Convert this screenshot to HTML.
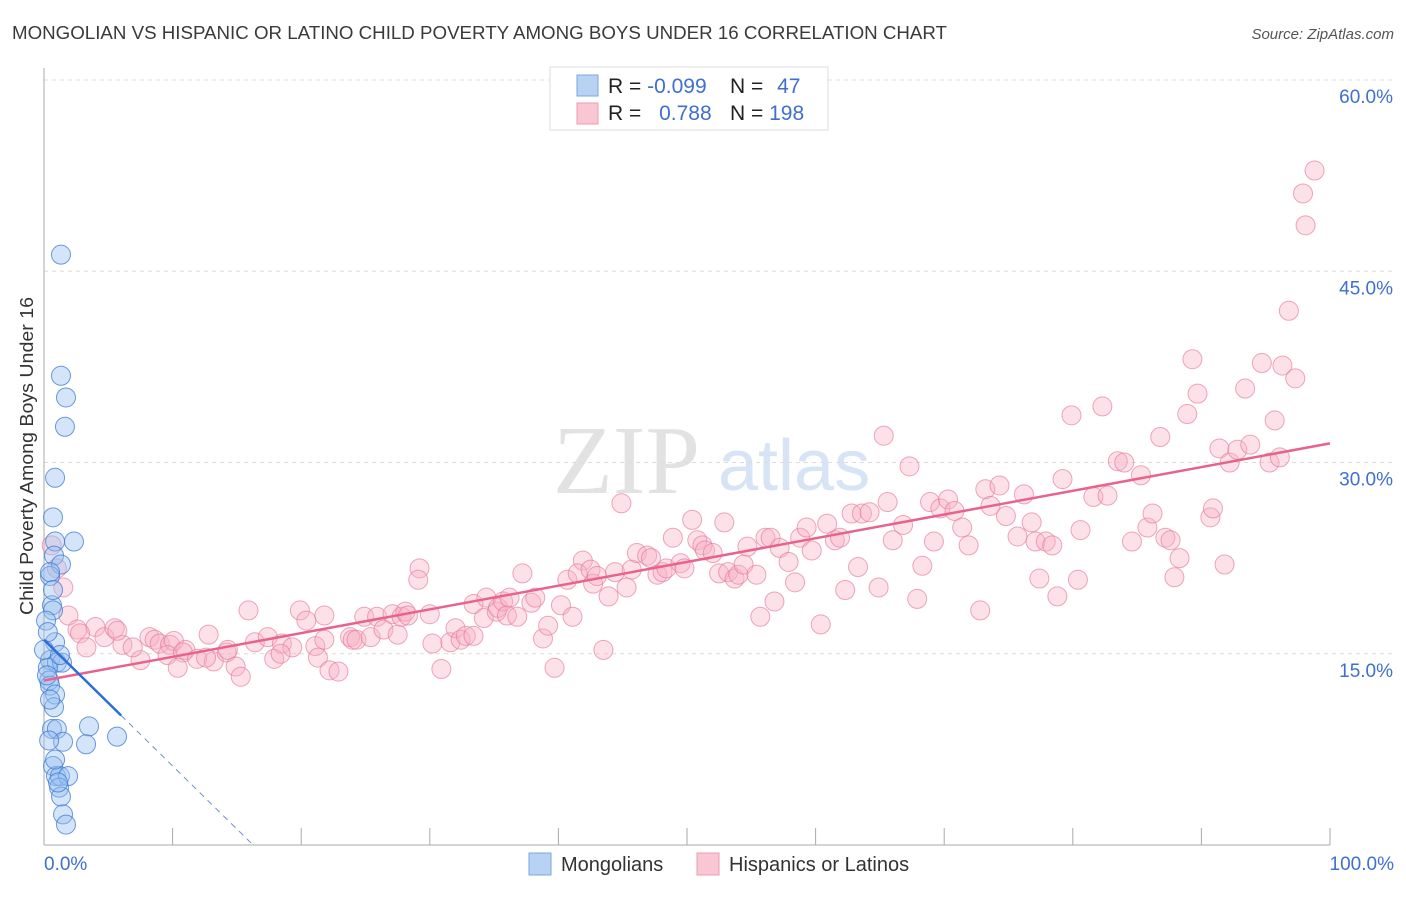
<!DOCTYPE html>
<html><head><meta charset="utf-8"><style>
body{margin:0;background:#fff;width:1406px;height:892px;overflow:hidden;font-family:"Liberation Sans",sans-serif}
</style></head><body>
<svg id="chart" width="1406" height="892" xmlns="http://www.w3.org/2000/svg" font-family="Liberation Sans, sans-serif">
<text x="12" y="39" font-size="18" fill="#3a3a3a" textLength="935" lengthAdjust="spacingAndGlyphs">MONGOLIAN VS HISPANIC OR LATINO CHILD POVERTY AMONG BOYS UNDER 16 CORRELATION CHART</text>
<text x="1394" y="39" font-size="15" fill="#555" text-anchor="end" font-style="italic">Source: ZipAtlas.com</text>
<g>
<text x="553" y="493" font-size="98" fill="#e2e2e2" font-family="Liberation Serif, serif">ZIP</text>
<text x="718" y="490" font-size="72" fill="#d6e4f6">atlas</text>
</g>
<g id="grid"></g>
<g id="axes"></g>
<g id="marks"></g>
<text transform="translate(33,456) rotate(-90)" font-size="18" fill="#333" text-anchor="middle" textLength="318" lengthAdjust="spacingAndGlyphs">Child Poverty Among Boys Under 16</text>
<text x="44" y="870" font-size="19" fill="#3f6fd0">0.0%</text>
<text x="1394" y="870" font-size="19" fill="#3f6fd0" text-anchor="end">100.0%</text>
<g>
<rect x="550" y="67" width="278" height="63" fill="#fff" stroke="#ddd"/>
<rect x="577" y="75" width="21" height="21" fill="#b8d2f4" stroke="#7aa6e0"/>
<rect x="577" y="103" width="21" height="21" fill="#f9c6d4" stroke="#ee9ab4"/>
<text x="608" y="93" font-size="21" fill="#222">R = <tspan fill="#3f6fd0">-0.099</tspan></text>
<text x="730" y="93" font-size="21" fill="#222">N = <tspan fill="#3f6fd0" dx="8">47</tspan></text>
<text x="608" y="120" font-size="21" fill="#222">R = <tspan fill="#3f6fd0" dx="12">0.788</tspan></text>
<text x="730" y="120" font-size="21" fill="#222">N = <tspan fill="#3f6fd0">198</tspan></text>
</g>
<g>
<rect x="529" y="853" width="22" height="22" fill="#b8d2f4" stroke="#7aa6e0"/>
<text x="561" y="871" font-size="20" fill="#333">Mongolians</text>
<rect x="697" y="853" width="22" height="22" fill="#f9c6d4" stroke="#ee9ab4"/>
<text x="729" y="871" font-size="20" fill="#333">Hispanics or Latinos</text>
</g>
</svg>
<script>
const yTicks=[15,30,45,60];
const yTickLabels=["15.0%","30.0%","45.0%","60.0%"];
const xTicks=[10,20,30,40,50,60,70,80,90,100];
const blueX=[1.32,1.32,1.71,1.63,0.86,0.7,2.33,0.86,0.78,1.32,0.47,0.62,0.7,0.86,0.47,1.0,1.4,0.3,0.4,0.47,0.86,0.78,0.62,1.0,3.5,5.68,1.48,3.27,0.7,0.93,1.24,1.87,1.17,1.32,1.09,1.48,1.71,0.47,0.16,0.3,0,0.23,0.7,1.24,0.4,0.86,0.47];
const blueY=[46.3,36.8,35.1,32.8,28.8,25.7,23.8,23.8,22.7,22.0,21.1,18.8,18.4,15.9,14.5,14.3,14.3,13.9,12.9,12.5,11.8,10.8,9.1,9.1,9.3,8.5,8.1,7.9,6.2,5.4,5.4,5.4,4.5,3.8,4.9,2.4,1.6,21.4,17.6,16.7,15.3,13.3,20.0,14.9,8.2,6.7,11.4];
const pinkX=[0.6,1.5,1.0,1.9,2.6,4.0,2.8,3.3,4.7,5.5,6.1,5.7,7.5,6.9,8.2,8.6,9.0,9.8,10.1,9.6,11.0,10.8,11.9,10.4,12.8,13.2,12.6,14.2,14.3,14.9,15.3,15.9,16.4,17.4,17.9,18.5,19.3,18.4,19.9,20.4,21.1,21.3,21.8,21.8,22.2,22.9,23.8,24.0,24.3,24.9,25.4,25.9,26.4,27.1,27.5,27.8,28.1,28.3,29.2,29.1,30.0,30.2,30.9,31.6,32.0,32.4,32.8,33.4,33.4,34.2,34.4,35.2,35.3,35.7,36.0,36.2,36.8,37.2,37.9,38.2,38.8,39.2,39.7,40.2,40.7,41.1,41.9,41.5,42.5,42.7,43.0,43.5,43.9,44.4,44.9,45.3,45.7,46.1,46.9,47.2,47.7,48.1,48.4,48.9,49.5,49.8,50.4,50.8,51.2,51.4,52.0,52.5,52.9,53.2,53.7,54.0,54.4,54.7,55.4,55.7,56.1,56.5,56.8,57.2,57.9,58.4,58.8,59.3,59.7,60.4,60.9,61.5,61.9,62.3,62.8,63.3,63.6,64.2,64.9,65.3,65.6,66.0,66.8,67.3,67.9,68.3,68.9,69.2,69.7,70.3,70.8,71.4,71.9,72.8,73.2,73.6,74.3,74.8,75.7,76.2,76.8,77.1,77.4,77.9,78.4,78.8,79.2,79.9,80.4,80.6,81.6,82.3,82.7,83.5,84.0,84.6,85.3,85.8,86.2,86.8,87.2,87.6,87.9,88.3,88.9,89.3,89.7,90.7,90.9,91.4,91.8,92.2,92.8,93.4,93.8,94.7,95.3,95.7,96.1,96.3,97.3,96.8,97.9,98.1,98.8];
const pinkY=[23.5,20.2,21.7,18.0,16.9,17.1,16.6,15.5,16.3,17.0,15.7,16.8,14.5,15.5,16.3,16.1,15.8,15.7,16.0,14.9,15.3,15.1,14.6,13.9,16.5,14.4,14.7,15.1,15.3,14.0,13.2,18.4,15.9,16.3,14.6,15.8,15.5,15.0,18.4,17.6,15.6,14.7,18.0,16.1,13.7,13.6,16.3,16.1,16.1,17.9,16.3,17.9,16.9,18.1,16.5,17.9,18.3,18.0,21.7,20.8,18.1,15.8,13.8,15.9,17.0,16.1,16.4,16.4,18.9,17.8,19.4,18.3,18.6,19.1,18.0,19.4,17.9,21.3,19.0,19.4,16.2,17.2,13.9,18.8,20.8,17.9,22.3,21.3,21.6,20.5,21.1,15.3,19.5,21.4,26.8,20.2,21.6,22.9,22.7,22.5,21.2,21.4,21.7,24.1,22.1,21.7,25.5,23.9,23.5,23.1,22.9,21.3,25.3,21.4,20.9,21.2,22.0,23.4,21.2,17.9,24.1,24.1,19.1,23.3,22.2,20.6,24.1,24.9,23.1,17.3,25.2,23.9,24.1,20.0,26.0,21.8,26.0,26.1,20.2,32.1,26.9,23.9,25.1,29.7,19.3,21.9,26.9,23.8,26.4,27.1,26.2,24.9,23.5,18.4,27.9,26.6,28.2,25.8,24.2,27.5,25.3,23.8,20.9,23.8,23.5,19.5,28.7,33.7,20.8,24.7,27.3,34.4,27.4,30.1,30.0,23.8,29.0,24.9,26.0,32.0,24.1,23.9,21.0,22.5,33.8,38.1,35.4,25.7,26.4,31.1,22.0,30.0,31.0,35.8,31.4,37.8,30.0,33.3,30.4,37.6,36.6,41.9,51.1,48.6,52.9];
const blueTrend=[16.1,-0.99];
const pinkTrend=[12.9,0.186];
const X=v=>44+v*12.86, Y=v=>845-v*12.75;
const NS="http://www.w3.org/2000/svg";
function mk(tag,attrs,parent){const e=document.createElementNS(NS,tag);for(const k in attrs)e.setAttribute(k,attrs[k]);parent.appendChild(e);return e;}
const grid=document.getElementById('grid'),axes=document.getElementById('axes'),marks=document.getElementById('marks');
yTicks.forEach((t,i)=>{
 const l=mk('line',{x1:44,x2:1394,y1:Y(t),y2:Y(t),stroke:'#dcdcdc','stroke-dasharray':'4,4'},grid);
 
 
 const tx=mk('text',{x:1393,y:Y(t)+23,'font-size':19,fill:'#3f6fd0','text-anchor':'end'},grid);
 tx.textContent=yTickLabels[i];
 
 
});
mk('line',{x1:44,x2:44,y1:68,y2:845,stroke:'#aaa'},axes);
mk('line',{x1:44,x2:1330,y1:845,y2:845,stroke:'#aaa'},axes);
xTicks.forEach(t=>{
 const l=mk('line',{x1:X(t),x2:X(t),y1:828,y2:845,stroke:'#aaa'},axes);
 
 
});
pinkX.forEach((x,i)=>{
 const c=mk('circle',{cx:X(x),cy:Y(pinkY[i]),r:9.5,fill:'rgba(248,175,198,0.38)',stroke:'rgba(230,120,155,0.65)','stroke-width':1},marks);
 
 
});
blueX.forEach((x,i)=>{
 const c=mk('circle',{cx:X(x),cy:Y(blueY[i]),r:9.5,fill:'rgba(150,190,240,0.4)',stroke:'rgba(60,120,210,0.75)','stroke-width':1},marks);
 
 
});
const pl=mk('line',{x1:X(0),y1:Y(pinkTrend[0]),x2:X(100),y2:Y(pinkTrend[0]+pinkTrend[1]*100),stroke:'#e8628e','stroke-width':2.5},marks);


const xEnd=-blueTrend[0]/blueTrend[1];
const bd=mk('line',{x1:X(6),y1:Y(blueTrend[0]+blueTrend[1]*6),x2:X(xEnd),y2:Y(0),stroke:'#6f8fd8','stroke-width':1,'stroke-dasharray':'6,5'},marks);


const bl=mk('line',{x1:X(0),y1:Y(blueTrend[0]),x2:X(6),y2:Y(blueTrend[0]+blueTrend[1]*6),stroke:'#2a6fd6','stroke-width':2.5},marks);


</script>
</body></html>
